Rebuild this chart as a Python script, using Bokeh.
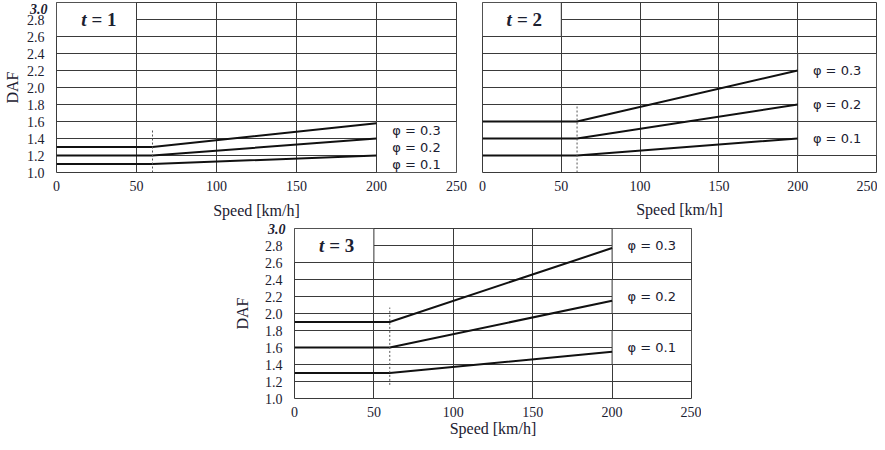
from bokeh.plotting import figure
from bokeh.models import FixedTicker, Spacer, PrintfTickFormatter, LinearAxis
from bokeh.layouts import column, row
from bokeh.embed import file_html
from bokeh.resources import INLINE
from bokeh.core.properties import value

# ---- data ----
speed = [0, 60, 200]

t1_phi01 = [1.1, 1.1, 1.2]
t1_phi02 = [1.2, 1.2, 1.4]
t1_phi03 = [1.3, 1.3, 1.58]

t2_phi01 = [1.2, 1.2, 1.4]
t2_phi02 = [1.4, 1.4, 1.8]
t2_phi03 = [1.6, 1.6, 2.2]

t3_phi01 = [1.3, 1.3, 1.55]
t3_phi02 = [1.6, 1.6, 2.15]
t3_phi03 = [1.9, 1.9, 2.77]

cutoff_speed = 60
t1_cut_y = [1.0, 1.5]
t2_cut_y = [1.0, 1.78]
t3_cut_y = [1.16, 2.07]

phi_labels = ["φ = 0.3", "φ = 0.2", "φ = 0.1"]
t1_phi_label_y = [1.5, 1.3, 1.1]
t2_phi_label_y = [2.2, 1.8, 1.4]
t3_phi_label_y = [2.8, 2.2, 1.6]

panel_names = ["= 1", "= 2", "= 3"]

x_ticks = [0, 50, 100, 150, 200, 250]
y_ticks = [1.0, 1.2, 1.4, 1.6, 1.8, 2.0, 2.2, 2.4, 2.6, 2.8]
y_top_tick = [3.0]
x_grid = [50, 100, 150, 200]
y_grid = [1.2, 1.4, 1.6, 1.8, 2.0, 2.2, 2.4, 2.6, 2.8]

# table cells (left, right, bottom, top) that have no inner grid lines
t_cell = (0, 50, 2.6, 3.0)
t1_phi_cells = [(200, 250, 1.0, 1.6)]
t2_phi_cells = [(200, 250, 2.0, 2.4), (200, 250, 1.6, 2.0), (200, 250, 1.2, 1.6)]
t3_phi_cells = [(200, 250, 2.6, 3.0), (200, 250, 2.0, 2.4), (200, 250, 1.4, 1.8)]

SERIF = "Liberation Serif"
TXT = "#1b2030"
GRID = "#3a3a3a"


def style_axis(ax):
    ax.axis_line_color = None
    ax.major_tick_line_color = None
    ax.minor_tick_line_color = None
    ax.major_label_text_font = SERIF
    ax.major_label_text_font_size = "14px"
    ax.major_label_text_color = TXT
    ax.axis_label_text_font = SERIF
    ax.axis_label_text_font_style = "normal"
    ax.axis_label_text_font_size = "16px"
    ax.axis_label_text_color = TXT


def make_panel(series, cut_y, phi_y, cells, name, show_y, fw, fh,
               bl, br, bt, bb, ylab_standoff, xlab_standoff):
    p = figure(x_range=(0, 250), y_range=(1.0, 3.0), output_backend="svg",
               toolbar_location=None, frame_width=fw, frame_height=fh,
               min_border_left=bl, min_border_right=br,
               min_border_top=bt, min_border_bottom=bb,
               y_axis_location=None)
    p.background_fill_color = "white"
    p.border_fill_color = "white"
    p.outline_line_color = GRID
    p.outline_line_width = 1
    p.outline_line_alpha = 1

    p.xgrid.ticker = FixedTicker(ticks=x_grid)
    p.grid.grid_line_color = GRID
    p.grid.grid_line_alpha = 1
    p.grid.grid_line_width = 1

    for ax in p.xaxis:
        style_axis(ax)
    p.xaxis.ticker = FixedTicker(ticks=x_ticks)
    p.xaxis.major_label_standoff = 2
    p.xaxis.axis_label = "Speed [km/h]"
    p.xaxis.axis_label_standoff = xlab_standoff

    if show_y:
        inner = LinearAxis(ticker=FixedTicker(ticks=y_ticks),
                           formatter=PrintfTickFormatter(format="%.1f"))
        style_axis(inner)
        inner.major_label_standoff = 6
        p.add_layout(inner, "left")
        outer = LinearAxis(ticker=FixedTicker(ticks=y_top_tick),
                           formatter=PrintfTickFormatter(format="%.1f"))
        style_axis(outer)
        outer.major_label_text_font_style = "bold italic"
        outer.major_label_standoff = -30
        outer.axis_label = "DAF"
        outer.axis_label_standoff = ylab_standoff
        p.add_layout(outer, "left")
    p.ygrid.ticker = FixedTicker(ticks=y_grid)
    p.ygrid.grid_line_color = GRID
    p.ygrid.grid_line_alpha = 1

    all_cells = [t_cell] + cells
    p.quad(left=[c[0] for c in all_cells], right=[c[1] for c in all_cells],
           bottom=[c[2] for c in all_cells], top=[c[3] for c in all_cells],
           fill_color="white", line_color=GRID, line_width=1)

    for ys in series:
        p.line(speed, ys, line_color="#111111", line_width=2)

    p.line([cutoff_speed, cutoff_speed], cut_y, line_color="#555555",
           line_width=1, line_dash="2 2")

    p.text(x=[225] * 3, y=phi_y, text=phi_labels, text_align="center",
           text_baseline="middle", text_font=value("DejaVu Sans"),
           text_font_size="13px", text_color=TXT)

    cx = (t_cell[0] + t_cell[1]) / 2
    cy = (t_cell[2] + t_cell[3]) / 2
    p.text(x=[cx], y=[cy], text=["t"], text_align="right",
           text_baseline="middle", x_offset=-10, text_font=value(SERIF),
           text_font_size="19px", text_font_style="bold italic", text_color=TXT)
    p.text(x=[cx], y=[cy], text=[name], text_align="left",
           text_baseline="middle", x_offset=-5, text_font=value(SERIF),
           text_font_size="19px", text_font_style="bold", text_color=TXT)
    return p


p1 = make_panel([t1_phi01, t1_phi02, t1_phi03], t1_cut_y, t1_phi_label_y,
                t1_phi_cells, panel_names[0], True, 400, 170,
                48, 16, 2, 46, 6, 8)
p2 = make_panel([t2_phi01, t2_phi02, t2_phi03], t2_cut_y, t2_phi_label_y,
                t2_phi_cells, panel_names[1], False, 394, 170,
                10, 1, 2, 46, 4, 7)
p3 = make_panel([t3_phi01, t3_phi02, t3_phi03], t3_cut_y, t3_phi_label_y,
                t3_phi_cells, panel_names[2], True, 397, 170,
                62, 10, 7, 36, 14, 0)

layout = column(row(p1, p2), row(Spacer(width=230, height=10), p3))

open("out.html", "w").write(file_html(layout, INLINE))
